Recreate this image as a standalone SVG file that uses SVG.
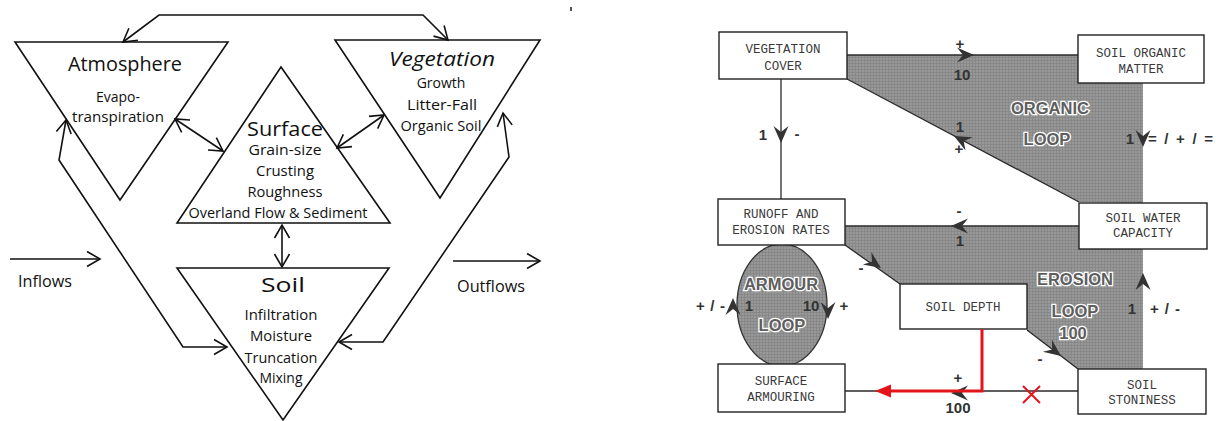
<svg xmlns="http://www.w3.org/2000/svg" xmlns:xlink="http://www.w3.org/1999/xlink" width="1216" height="421" viewBox="0 0 1216 421">
  <style>
    .tri { fill: none; stroke: #111; stroke-width: 1.6; stroke-linejoin: miter; }
    .flow { fill: none; stroke: #111; stroke-width: 1.6; }
    .hand { font-family: "Open Sans", "DejaVu Sans", sans-serif; fill: #111; }
    .ttl { font-size: 20px; }
    .sub { font-size: 14px; }
    .box { fill: #fff; stroke: #222; stroke-width: 1.4; }
    .btxt { font-family: "Liberation Mono", "DejaVu Sans Mono", monospace; font-size: 12.5px; fill: #3a3a3a; text-anchor: middle; }
    .link { fill: none; stroke: #2a2a2a; stroke-width: 1.3; }
    .shade { fill: url(#grain); stroke: none; }
    .lbl { font-family: "Liberation Sans", Arial, sans-serif; font-weight: bold; font-size: 15px; fill: #333; }
    .loop { font-family: "Liberation Sans", Arial, sans-serif; font-weight: bold; font-size: 16.5px; fill: #5e5e5e; stroke: #fff; stroke-width: 2.6; paint-order: stroke; text-anchor: middle; }
    .red { fill: none; stroke: #e5141b; stroke-width: 3; }
  </style>
  <defs>
    <!-- open chevron head for the hand-drawn flows -->
    <marker id="open" viewBox="-15 -9 17 18" refX="0" refY="0" markerWidth="17" markerHeight="18" markerUnits="userSpaceOnUse" orient="auto-start-reverse">
      <path d="M-13,-7.5 L0,0 L-13,7.5" fill="none" stroke="#111" stroke-width="1.6"/>
    </marker>
    <!-- screened grey texture of the loop areas -->
    <pattern id="grain" width="3" height="3" patternUnits="userSpaceOnUse">
      <rect width="3" height="3" fill="#989898"/>
      <path d="M0,0.5 H3 M0.5,0 V3" stroke="#858585" stroke-width="0.8"/>
    </pattern>
    <!-- dart-shaped head on the loop connectors -->
    <path id="dart" d="M0,0 L-17,-7.5 L-11,0 L-17,7.5 Z" fill="#333"/>
  </defs>

  <!-- ===== Left: compartment triangles ===== -->
  <g id="atmosphere">
    <polygon class="tri" points="15,42 228,42 120,200"/>
    <text class="hand ttl" x="125" y="71" text-anchor="middle" textLength="114" lengthAdjust="spacingAndGlyphs">Atmosphere</text>
    <text class="hand sub" x="118" y="102" text-anchor="middle">Evapo-</text>
    <text class="hand sub" x="118" y="122" text-anchor="middle" textLength="92" lengthAdjust="spacingAndGlyphs">transpiration</text>
  </g>
  <g id="vegetation">
    <polygon class="tri" points="335,40 540,40 440,198"/>
    <text class="hand ttl" x="442" y="66" text-anchor="middle" font-style="italic" textLength="106" lengthAdjust="spacingAndGlyphs">Vegetation</text>
    <text class="hand sub" x="441" y="88" text-anchor="middle">Growth</text>
    <text class="hand sub" x="442" y="110" text-anchor="middle" textLength="70" lengthAdjust="spacingAndGlyphs">Litter-Fall</text>
    <text class="hand sub" x="441" y="131" text-anchor="middle" textLength="81" lengthAdjust="spacingAndGlyphs">Organic Soil</text>
  </g>
  <g id="surface">
    <polygon class="tri" points="281,67 177,223 390,223"/>
    <text class="hand ttl" x="285" y="136" text-anchor="middle" textLength="76" lengthAdjust="spacingAndGlyphs">Surface</text>
    <text class="hand sub" x="285" y="155" text-anchor="middle" textLength="73" lengthAdjust="spacingAndGlyphs">Grain-size</text>
    <text class="hand sub" x="285" y="176" text-anchor="middle" textLength="58" lengthAdjust="spacingAndGlyphs">Crusting</text>
    <text class="hand sub" x="285" y="197" text-anchor="middle" textLength="75" lengthAdjust="spacingAndGlyphs">Roughness</text>
    <text class="hand sub" x="278" y="218" text-anchor="middle" textLength="179" lengthAdjust="spacingAndGlyphs">Overland Flow &amp; Sediment</text>
  </g>
  <g id="soil">
    <polygon class="tri" points="177,268 389,268 283,420"/>
    <text class="hand ttl" x="283" y="292" text-anchor="middle" textLength="44" lengthAdjust="spacingAndGlyphs">Soil</text>
    <text class="hand sub" x="281" y="320" text-anchor="middle" textLength="73" lengthAdjust="spacingAndGlyphs">Infiltration</text>
    <text class="hand sub" x="281" y="341" text-anchor="middle" textLength="62" lengthAdjust="spacingAndGlyphs">Moisture</text>
    <text class="hand sub" x="281" y="363" text-anchor="middle" textLength="73" lengthAdjust="spacingAndGlyphs">Truncation</text>
    <text class="hand sub" x="281" y="383" text-anchor="middle" textLength="43" lengthAdjust="spacingAndGlyphs">Mixing</text>
  </g>
  <g id="boundary-flows">
    <text class="hand" x="18" y="287" font-size="16" textLength="54" lengthAdjust="spacingAndGlyphs">Inflows</text>
    <text class="hand" x="457" y="292" font-size="16" textLength="68" lengthAdjust="spacingAndGlyphs">Outflows</text>
  </g>
  <g id="left-connectors">
    <polyline class="flow" points="123,42 159,15 423,15 448,40" marker-start="url(#open)" marker-end="url(#open)"/>
    <line class="flow" x1="175" y1="119" x2="223" y2="151" marker-start="url(#open)" marker-end="url(#open)"/>
    <line class="flow" x1="337" y1="148" x2="384" y2="115" marker-start="url(#open)" marker-end="url(#open)"/>
    <line class="flow" x1="282" y1="225" x2="282" y2="267" marker-start="url(#open)" marker-end="url(#open)"/>
    <polyline class="flow" points="66,120 59,160 183,347 227,347" marker-start="url(#open)" marker-end="url(#open)"/>
    <polyline class="flow" points="503,113 509,157 383,342 339,342" marker-start="url(#open)" marker-end="url(#open)"/>
    <line class="flow" x1="10" y1="259" x2="100" y2="259" marker-end="url(#open)"/>
    <line class="flow" x1="453" y1="261" x2="540" y2="261" marker-end="url(#open)"/>
  </g>
  <rect x="570" y="7" width="2" height="4" fill="#555"/>

  <!-- ===== Right: feedback loops ===== -->
  <g id="loop-areas">
    <polygon class="shade" points="847,55 1143,55 1143,203 1079,202 847,79"/>
    <polygon class="shade" points="845,226 1143,226 1143,369 1078,369 1027,330 1027,284 900,284 845,245"/>
    <ellipse cx="782" cy="305" rx="45" ry="61" fill="url(#grain)" stroke="#333" stroke-width="1.3"/>
  </g>
  <g id="connectors">
    <line class="link" x1="781" y1="79" x2="781" y2="199"/>
    <line class="link" x1="847" y1="55" x2="1078" y2="55"/>
    <line class="link" x1="847" y1="79" x2="1079" y2="202"/>
    <line class="link" x1="845" y1="226" x2="1079" y2="226"/>
    <line class="link" x1="845" y1="245" x2="900" y2="284"/>
    <line class="link" x1="1027" y1="330" x2="1078" y2="369"/>
    <line class="link" x1="845" y1="391" x2="1078" y2="391"/>
    <use href="#dart" transform="translate(781,143) rotate(90)"/>
    <use href="#dart" transform="translate(974,55)"/>
    <use href="#dart" transform="translate(954,136) rotate(207.9)"/>
    <use href="#dart" transform="translate(1143,147) rotate(90)"/>
    <use href="#dart" transform="translate(951,226) rotate(180)"/>
    <use href="#dart" transform="translate(881,268) rotate(35)"/>
    <use href="#dart" transform="translate(1143,273) rotate(-90)"/>
    <use href="#dart" transform="translate(1061,356) rotate(37)"/>
    <use href="#dart" transform="translate(951,393) rotate(180)"/>
    <use href="#dart" transform="translate(733,298) rotate(-90)"/>
    <use href="#dart" transform="translate(828,319) rotate(90)"/>
  </g>
  <g id="connector-labels">
    <text class="lbl" x="763" y="140" text-anchor="middle">1</text>
    <text class="lbl" x="797" y="139" text-anchor="middle">-</text>
    <text class="lbl" x="960" y="49" text-anchor="middle">+</text>
    <text class="lbl" x="962" y="80" text-anchor="middle">10</text>
    <text class="lbl" x="960" y="132" text-anchor="middle">1</text>
    <text class="lbl" x="959" y="154" text-anchor="middle">+</text>
    <text class="lbl" x="1130" y="144" text-anchor="middle">1</text>
    <text class="lbl" x="1148" y="144" textLength="65" lengthAdjust="spacing">= / + / =</text>
    <text class="lbl" x="959" y="216" text-anchor="middle">-</text>
    <text class="lbl" x="960" y="246" text-anchor="middle">1</text>
    <text class="lbl" x="861" y="273" text-anchor="middle">-</text>
    <text class="lbl" x="1132" y="314" text-anchor="middle">1</text>
    <text class="lbl" x="1150" y="314" textLength="30" lengthAdjust="spacing">+ / -</text>
    <text class="lbl" x="1040" y="364" text-anchor="middle">-</text>
    <text class="lbl" x="958" y="383" text-anchor="middle">+</text>
    <text class="lbl" x="958" y="413" text-anchor="middle" font-size="17">100</text>
    <text class="lbl" x="696" y="311" textLength="29" lengthAdjust="spacing">+ / -</text>
    <text class="lbl" x="749" y="311" text-anchor="middle">1</text>
    <text class="lbl" x="811" y="311" text-anchor="middle">10</text>
    <text class="lbl" x="844" y="311" text-anchor="middle">+</text>
  </g>
  <g id="loop-titles">
    <text class="loop" x="1050" y="114">ORGANIC</text>
    <text class="loop" x="1047" y="145">LOOP</text>
    <text class="loop" x="1075" y="285">EROSION</text>
    <text class="loop" x="1075" y="317">LOOP</text>
    <text class="loop" x="1073" y="339">100</text>
    <text class="loop" x="781" y="290" font-size="17.5">ARMOUR</text>
    <text class="loop" x="782" y="331" font-size="17.5">LOOP</text>
  </g>

  <g id="vegetation-cover">
    <rect class="box" x="719" y="32" width="128" height="47"/>
    <text class="btxt" x="783" y="53">VEGETATION</text>
    <text class="btxt" x="783" y="70">COVER</text>
  </g>
  <g id="soil-organic-matter">
    <rect class="box" x="1078" y="35" width="126" height="48"/>
    <text class="btxt" x="1141" y="57">SOIL ORGANIC</text>
    <text class="btxt" x="1141" y="73">MATTER</text>
  </g>
  <g id="runoff-erosion">
    <rect class="box" x="718" y="199" width="127" height="46"/>
    <text class="btxt" x="781" y="218">RUNOFF AND</text>
    <text class="btxt" x="781" y="234">EROSION RATES</text>
  </g>
  <g id="soil-water-capacity">
    <rect class="box" x="1079" y="203" width="128" height="46"/>
    <text class="btxt" x="1143" y="222">SOIL WATER</text>
    <text class="btxt" x="1143" y="237">CAPACITY</text>
  </g>
  <g id="soil-depth">
    <rect class="box" x="900" y="284" width="127" height="45"/>
    <text class="btxt" x="963" y="311">SOIL DEPTH</text>
  </g>
  <g id="surface-armouring">
    <rect class="box" x="718" y="364" width="127" height="48"/>
    <text class="btxt" x="781" y="385">SURFACE</text>
    <text class="btxt" x="781" y="401">ARMOURING</text>
  </g>
  <g id="soil-stoniness">
    <rect class="box" x="1078" y="369" width="128" height="45"/>
    <text class="btxt" x="1142" y="389">SOIL</text>
    <text class="btxt" x="1142" y="404">STONINESS</text>
  </g>

  <!-- red override: soil depth drives surface armouring directly -->
  <g id="red-link">
    <polyline class="red" points="982,329 982,391 888,391"/>
    <polygon points="875,391 891,384.5 891,397.5" fill="#e5141b"/>
    <path d="M1023,386 L1040,403 M1040,386 L1023,403" stroke="#e5141b" stroke-width="2" fill="none"/>
  </g>
</svg>
